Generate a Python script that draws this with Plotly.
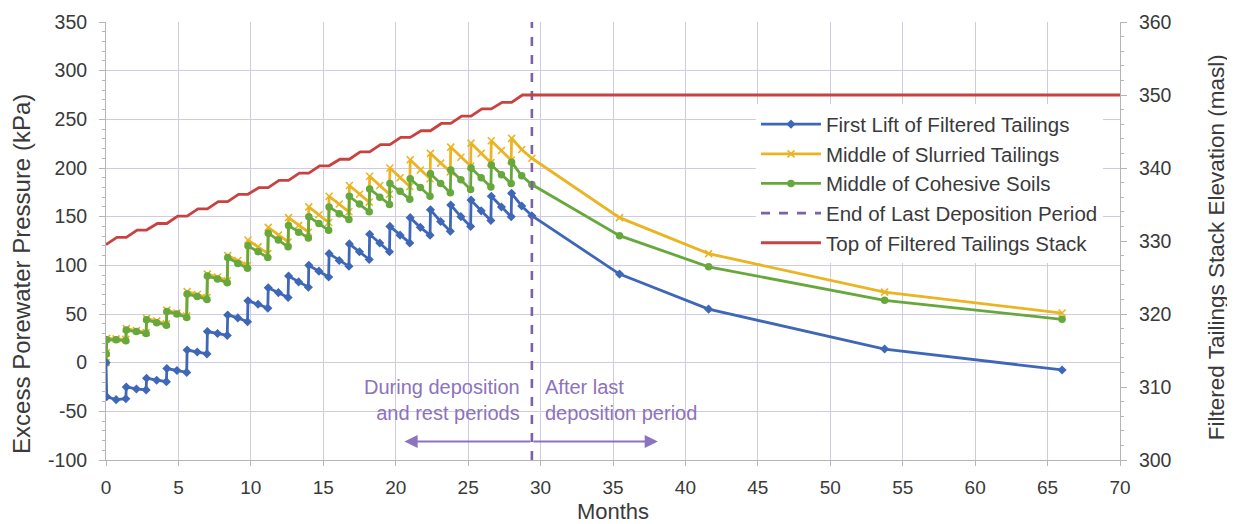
import plotly.graph_objects as go

# ---------------- data ----------------
# deposition-phase time stamps (months): start / middle / end of each 1.4-month cycle
dep_t = [0.05, 0.7, 1.37, 1.4, 2.1, 2.77, 2.8, 3.5, 4.17, 4.2, 4.9, 5.57,
         5.6, 6.3, 6.97, 7.0, 7.7, 8.37, 8.4, 9.1, 9.77, 9.8, 10.5, 11.17,
         11.2, 11.9, 12.57, 12.6, 13.3, 13.97, 14.0, 14.7, 15.37, 15.4, 16.1, 16.77,
         16.8, 17.5, 18.17, 18.2, 18.9, 19.57, 19.6, 20.3, 20.97, 21.0, 21.7, 22.37,
         22.4, 23.1, 23.77, 23.8, 24.5, 25.17, 25.2, 25.9, 26.57, 26.6, 27.3, 27.97,
         28.0, 28.7, 29.4]
post_t = [35.45, 41.6, 53.75, 66.0]

blue_init_t = [0.0]
blue_init = [0]
blue_dep = [-35, -38, -37, -25, -27, -28, -16, -18, -19.5, -6, -8, -10,
            13, 11, 9, 32, 30, 28, 49, 46, 42, 63.5, 60, 56,
            77, 72, 67, 89, 83, 77.5, 100, 94, 88, 112, 105, 99,
            122, 114, 106, 132, 123, 114, 140, 131, 123, 149, 139, 131,
            157, 145, 135, 162, 150, 140, 167, 156, 146, 171, 160, 150,
            174, 161, 151]
blue_post = [91, 55, 14, -7.5]

yellow_init_t = [0.0, 0.02]
yellow_init = [0, 10]
yellow_dep = [25, 24.5, 24, 35, 33, 31, 45.5, 43, 40, 54, 51, 48,
              73, 70, 67, 91, 88, 84, 110, 105, 100, 126, 119, 112,
              139, 131, 124, 149, 141, 134, 160, 152, 144, 171, 163, 155,
              182, 173, 165, 191.5, 182, 173, 200, 190, 181, 208.5, 198, 189,
              215, 205, 196, 221.5, 211, 202, 225.5, 215, 205.5, 228, 218, 208,
              230.5, 219, 210]
yellow_post = [149, 112, 72.5, 51]

green_init_t = [0.0, 0.02]
green_init = [0, 9]
green_dep = [23.5, 23.5, 22.5, 33.5, 32, 30, 44, 41, 38.5, 52.5, 50, 46.5,
             70.5, 68, 65, 89, 86, 82, 108, 102, 97, 120, 114, 108,
             133, 126, 119, 141, 134, 128, 150, 143, 136, 160, 153, 147,
             171, 163, 155, 178.5, 170, 162.5, 184, 176, 168, 189, 180, 171,
             194, 184, 174.5, 198, 188, 178, 200, 190, 180.5, 203, 193, 184,
             206, 192, 183]
green_post = [130.5, 98.5, 64, 44.5]

end_deposition_t = [29.4, 29.4]
end_deposition_y = [-100, 350]

stack_t = [0, 0.75, 1.4, 2.15, 2.8, 3.55, 4.2, 4.95, 5.6, 6.35, 7.0, 7.75,
           8.4, 9.15, 9.8, 10.55, 11.2, 11.95, 12.6, 13.35, 14.0, 14.75,
           15.4, 16.15, 16.8, 17.55, 18.2, 18.95, 19.6, 20.35, 21.0, 21.75,
           22.4, 23.15, 23.8, 24.55, 25.2, 25.95, 26.6, 27.35, 28.0, 28.75, 70]
stack_elev = [329.5, 330.5, 330.5, 331.5, 331.5, 332.4, 332.4, 333.4, 333.4, 334.4,
              334.4, 335.4, 335.4, 336.4, 336.4, 337.3, 337.3, 338.3, 338.3, 339.3,
              339.3, 340.3, 340.3, 341.2, 341.2, 342.2, 342.2, 343.2, 343.2, 344.2,
              344.2, 345.1, 345.1, 346.1, 346.1, 347.1, 347.1, 348.1, 348.1, 349.0,
              349.0, 350, 350]

x_ticks = [0, 5, 10, 15, 20, 25, 30, 35, 40, 45, 50, 55, 60, 65, 70]
y_ticks = [-100, -50, 0, 50, 100, 150, 200, 250, 300, 350]
y_tick_labels = ["-100", "-50", "0", "50", "100", "150", "200", "250", "300", "350"]
y2_ticks = [300, 310, 320, 330, 340, 350, 360]

# ---------------- styling ----------------
FONT = "Liberation Sans, Arial, sans-serif"
TXT = "#3a3a3a"
BLUE = "#3f67b8"
YELLOW = "#eab422"
GREEN = "#66a83c"
RED = "#c8433f"
PURPLE = "#7b62a8"
ANNOT = "#8d72bd"
GRID = "#d0cbe0"
AXIS = "#b5b5b5"
LW = 2.8

fig = go.Figure()

fig.add_trace(go.Scatter(
    x=yellow_init_t + dep_t + post_t, y=yellow_init + yellow_dep + yellow_post,
    name="Middle of Slurried Tailings", mode="lines+markers", legendrank=2,
    line=dict(color=YELLOW, width=LW),
    marker=dict(symbol="x-thin", size=7, line=dict(color=YELLOW, width=1.6))))

fig.add_trace(go.Scatter(
    x=green_init_t + dep_t + post_t, y=green_init + green_dep + green_post,
    name="Middle of Cohesive Soils", mode="lines+markers", legendrank=3,
    line=dict(color=GREEN, width=LW),
    marker=dict(symbol="circle", size=7.5, color=GREEN)))

fig.add_trace(go.Scatter(
    x=blue_init_t + dep_t + post_t, y=blue_init + blue_dep + blue_post,
    name="First Lift of Filtered Tailings", mode="lines+markers", legendrank=1,
    line=dict(color=BLUE, width=LW),
    marker=dict(symbol="diamond", size=7, color=BLUE)))

fig.add_trace(go.Scatter(
    x=end_deposition_t, y=end_deposition_y,
    name="End of Last Deposition Period", mode="lines", legendrank=4,
    line=dict(color=PURPLE, width=2.6, dash="dash")))

fig.add_trace(go.Scatter(
    x=stack_t, y=stack_elev, yaxis="y2",
    name="Top of Filtered Tailings Stack", mode="lines", legendrank=5,
    line=dict(color=RED, width=LW)))

# arrows and annotation text
fig.add_annotation(x=20.6, y=-81, ax=29.4, ay=-81, xref="x", yref="y",
                   axref="x", ayref="y", text="", showarrow=True,
                   arrowhead=2, arrowsize=1.2, arrowwidth=2.2, arrowcolor=ANNOT)
fig.add_annotation(x=38.1, y=-81, ax=29.4, ay=-81, xref="x", yref="y",
                   axref="x", ayref="y", text="", showarrow=True,
                   arrowhead=2, arrowsize=1.2, arrowwidth=2.2, arrowcolor=ANNOT)
fig.add_annotation(x=28.75, y=-38, xref="x", yref="y", xanchor="right",
                   yanchor="middle", align="right", showarrow=False,
                   text="During deposition<br>and rest periods",
                   font=dict(family=FONT, size=20, color=ANNOT))
fig.add_annotation(x=30.2, y=-38, xref="x", yref="y", xanchor="left",
                   yanchor="middle", align="left", showarrow=False,
                   text="After last<br>deposition period",
                   font=dict(family=FONT, size=20, color=ANNOT))

# axis titles placed as rotated text (matching the reference's offsets)
fig.add_annotation(x=-0.0828, y=0.425, xref="paper", yref="paper",
                   xanchor="center", yanchor="middle", textangle=-90,
                   showarrow=False, text="Excess Porewater Pressure (kPa)",
                   font=dict(family=FONT, size=24, color=TXT))
fig.add_annotation(x=1.0947, y=0.486, xref="paper", yref="paper",
                   xanchor="center", yanchor="middle", textangle=-90,
                   showarrow=False, text="Filtered Tailings Stack Elevation (masl)",
                   font=dict(family=FONT, size=22.5, color=TXT))

# page body has an 8px default margin, so the figure is sized to fit the window
fig.update_layout(
    width=1227, height=516,
    margin=dict(l=98, r=115, t=14, b=64, autoexpand=False),
    paper_bgcolor="white", plot_bgcolor="white",
    font=dict(family=FONT, size=19, color=TXT),
    showlegend=True,
    legend=dict(x=0.641, y=0.812, xanchor="left", yanchor="top",
                bgcolor="white", borderwidth=0,
                font=dict(family=FONT, size=20.5, color=TXT),
                tracegroupgap=0, itemwidth=60),
    xaxis=dict(range=[0, 70], tickvals=x_ticks, showgrid=True, gridcolor=GRID,
               gridwidth=1, zeroline=False, showline=True, linecolor=AXIS,
               ticks="outside", ticklen=5, tickcolor=AXIS, ticklabelstandoff=5,
               title=dict(text="Months", standoff=12,
                          font=dict(family=FONT, size=22, color=TXT)),
               tickfont=dict(family=FONT, size=19, color=TXT)),
    yaxis=dict(range=[-100, 350], tickvals=y_ticks, ticktext=y_tick_labels,
               showgrid=True, gridcolor=GRID, gridwidth=1, zeroline=False,
               showline=True, linecolor=AXIS, ticks="outside", ticklen=6,
               tickcolor=AXIS, ticklabelstandoff=8,
               minor=dict(dtick=10, ticks="outside", ticklen=3, tickcolor=AXIS,
                          showgrid=False),
               tickfont=dict(family=FONT, size=19.5, color=TXT)),
    yaxis2=dict(range=[300, 360], tickvals=y2_ticks, overlaying="y", side="right",
                showgrid=False, zeroline=False, showline=True, linecolor=AXIS,
                ticks="outside", ticklen=6, tickcolor=AXIS, ticklabelstandoff=8,
                minor=dict(dtick=2, ticks="outside", ticklen=3, tickcolor=AXIS),
                tickfont=dict(family=FONT, size=19.5, color=TXT)),
)

fig.write_html("out.html")
